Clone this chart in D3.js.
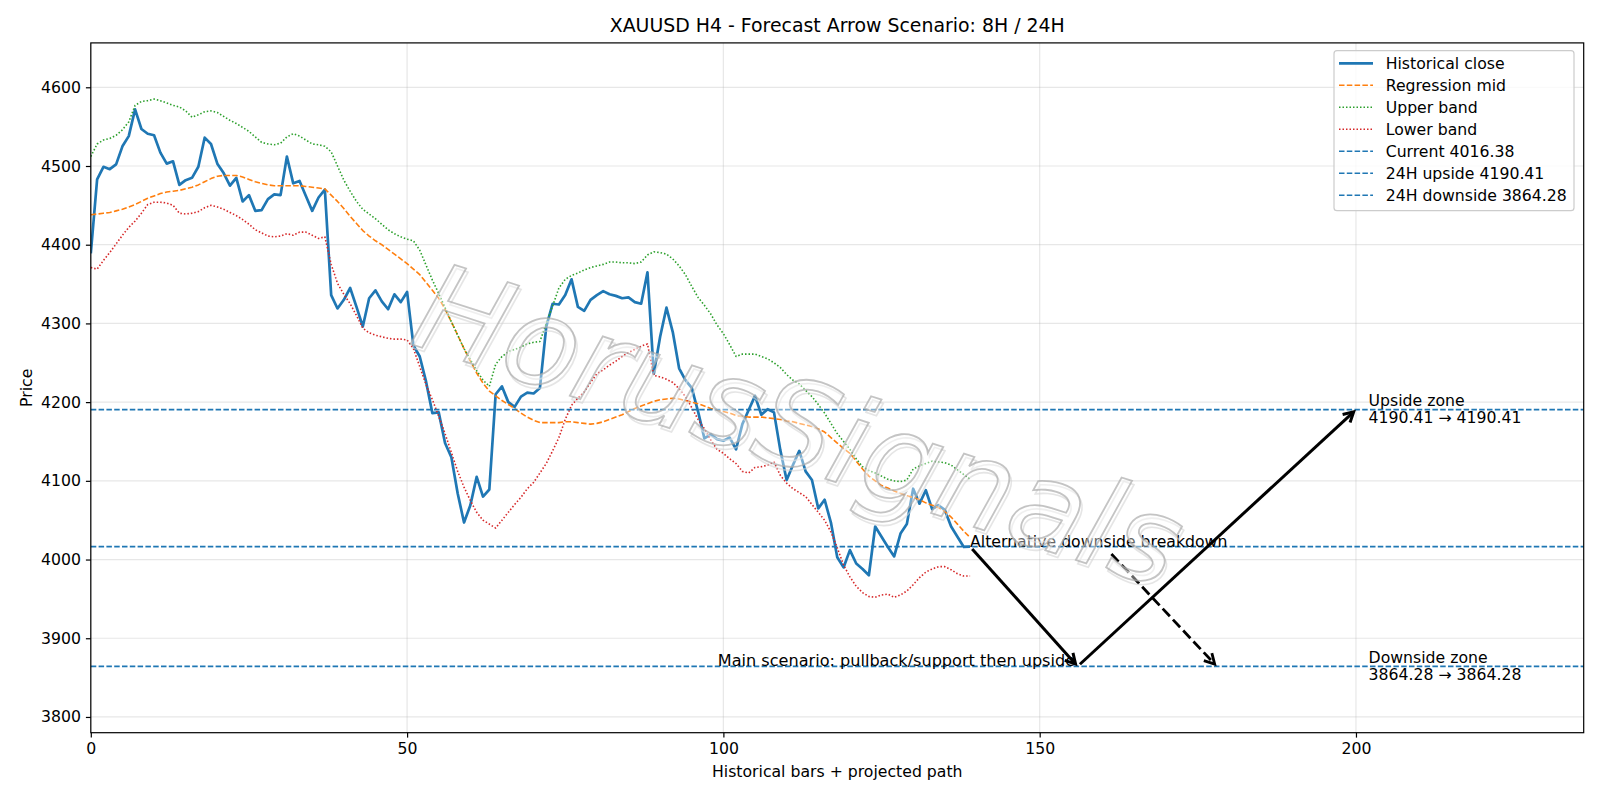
<!DOCTYPE html>
<html>
<head>
<meta charset="utf-8">
<script src="https://cdn.jsdelivr.net/npm/d3@7"></script>
<style>
  body { margin: 0; background: #fff; }
  svg { display: block; font-family: "DejaVu Sans", sans-serif; }
</style>
</head>
<body>
<div id="chart"></div>
<script>
// values
const closeValues = [4389,4483,4499,4496,4502,4525,4538,4572,4547,4541,
  4539,4517,4503,4506,4476,4482,4485,4499,4536,4528,
  4503,4491,4475,4485,4455,4463,4443,4444,4458,4464,
  4463,4512,4478,4481,4462,4443,4460,4470,4336,4319,
  4330,4345,4321,4296,4332,4342,4328,4318,4337,4327,
  4340,4272,4258,4226,4186,4187,4148,4130,4084,4047,
  4069,4105,4080,4089,4210,4220,4200,4194,4207,4212,
  4211,4218,4296,4325,4324,4336,4356,4321,4316,4330,
  4336,4341,4337,4335,4332,4333,4327,4325,4365,4236,
  4283,4320,4289,4243,4228,4218,4188,4154,4159,4153,
  4151,4155,4140,4172,4190,4208,4184,4191,4187,4139,
  4101,4120,4138,4112,4101,4065,4076,4047,4003,3990,
  4012,3995,3988,3980,4042,4029,4016,4004,4033,4045,
  4090,4071,4088,4064,4069,4063,4042,4029,4016,4016.38];

const midValues = [4438,4439,4440,4441,4443,4445,4448,4451,4455,4459,
  4462,4465,4467,4468,4469,4471,4473,4476,4480,4484,
  4487,4488,4488,4488,4486,4483,4480,4478,4476,4475,
  4475,4475,4475,4475,4474,4473,4472,4471,4463,4455,
  4446,4436,4427,4418,4411,4405,4400,4394,4388,4382,
  4376,4369,4362,4352,4342,4332,4318,4302,4285,4268,
  4252,4237,4224,4214,4208,4202,4197,4192,4186,4181,
  4177,4174,4174,4174,4174,4175,4175,4174,4173,4172,
  4173,4175,4178,4181,4184,4188,4192,4195,4198,4201,
  4203,4204,4205,4204,4202,4200,4198,4195,4192,4190,
  4188,4186,4183,4182,4181,4181,4181,4180,4179,4178,
  4176,4175,4173,4171,4169,4166,4162,4155,4148,4141,
  4135,4125,4115,4106,4100,4094,4091,4087,4084,4081,
  4079,4076,4072,4069,4066,4061,4054,4045,4036,4028];

const upperValues = [4512,4528,4533,4535,4539,4546,4556,4577,4582,4583,
  4585,4583,4580,4577,4575,4570,4562,4565,4569,4570,
  4568,4563,4558,4554,4549,4544,4537,4530,4528,4527,
  4529,4537,4541,4538,4533,4528,4527,4525,4518,4500,
  4482,4468,4455,4445,4439,4433,4426,4419,4414,4410,
  4407,4405,4393,4374,4355,4338,4320,4302,4285,4268,
  4254,4240,4228,4220,4248,4258,4264,4267,4270,4274,
  4276,4277,4300,4322,4345,4356,4361,4364,4368,4371,
  4373,4375,4378,4378,4377,4377,4376,4378,4387,4391,
  4390,4388,4382,4373,4362,4347,4333,4323,4312,4298,
  4287,4273,4258,4261,4261,4261,4258,4255,4250,4244,
  4235,4228,4223,4215,4207,4197,4186,4173,4160,4150,
  4140,4128,4118,4113,4110,4106,4102,4100,4099,4101,
  4115,4119,4122,4125,4124,4123,4120,4114,4108,4102];

const lowerValues = [4371,4369,4380,4390,4401,4412,4422,4430,4440,4451,
  4454,4454,4453,4450,4440,4439,4440,4442,4447,4450,
  4448,4445,4441,4437,4432,4426,4419,4415,4411,4410,
  4411,4414,4412,4416,4416,4412,4408,4410,4375,4351,
  4337,4325,4310,4294,4288,4285,4283,4281,4280,4280,
  4279,4268,4245,4222,4203,4182,4160,4136,4112,4092,
  4075,4060,4050,4045,4040,4050,4060,4070,4079,4090,
  4098,4110,4122,4138,4155,4178,4196,4205,4213,4225,
  4236,4241,4247,4252,4258,4263,4267,4271,4274,4234,
  4232,4229,4225,4217,4207,4193,4178,4166,4152,4140,
  4135,4128,4122,4112,4110,4117,4118,4120,4124,4107,
  4097,4090,4085,4080,4070,4060,4050,4035,4015,3993,
  3978,3966,3958,3953,3952,3955,3956,3952,3955,3960,
  3968,3977,3984,3988,3991,3991,3987,3982,3979,3979];

const currentPrice = 4016.38;
const upsideTarget = 4190.41;
const downsideTarget = 3864.28;

// projected paths (bar index, price)
const mainPathX = [139, 156, 200];
const mainPathY = [currentPrice, downsideTarget, upsideTarget];
const altPathX = [161, 178];
const altPathY = [4010, downsideTarget];

const xTicks = [0, 50, 100, 150, 200];
const yTicks = [3800, 3900, 4000, 4100, 4200, 4300, 4400, 4500, 4600];

const titleText = 'XAUUSD H4 - Forecast Arrow Scenario: 8H / 24H';
const watermarkText = 'HorusSignals';
const legendLabels = ['Historical close', 'Regression mid', 'Upper band', 'Lower band',
  'Current ' + currentPrice, '24H upside ' + upsideTarget, '24H downside ' + downsideTarget];

const width = 1600;
const height = 800;
const plotLeft = 90.8, plotRight = 1583.7, plotTop = 42.9, plotBottom = 732.7;
const fontSize = 15.7;

const svg = d3.select('#chart').append('svg')
  .attr('width', width)
  .attr('height', height);

const x = d3.scaleLinear().domain([0, 236]).range([plotLeft, plotRight]);
const y = d3.scaleLinear().domain([3780, 4656.4]).range([plotBottom, plotTop]);

// grid
const grid = svg.append('g').attr('class', 'grid');
grid.selectAll('.gx').data(xTicks).enter().append('line')
  .attr('x1', d => x(d)).attr('x2', d => x(d))
  .attr('y1', plotTop).attr('y2', plotBottom)
  .attr('stroke', '#b0b0b0').attr('stroke-opacity', 0.3).attr('stroke-width', 1.2);
grid.selectAll('.gy').data(yTicks).enter().append('line')
  .attr('x1', plotLeft).attr('x2', plotRight)
  .attr('y1', d => y(d)).attr('y2', d => y(d))
  .attr('stroke', '#b0b0b0').attr('stroke-opacity', 0.3).attr('stroke-width', 1.2);

svg.append('clipPath').attr('id', 'plotClip')
  .append('rect').attr('x', plotLeft).attr('y', plotTop)
  .attr('width', plotRight - plotLeft).attr('height', plotBottom - plotTop);

const plot = svg.append('g').attr('clip-path', 'url(#plotClip)');

const line = d3.line().x((d, i) => x(i)).y(d => y(d));

const series = [
  { values: closeValues, color: '#1f77b4', width: 2.7, dash: null },
  { values: midValues, color: '#ff7f0e', width: 1.6, dash: '5.5,2.3' },
  { values: upperValues, color: '#2ca02c', width: 1.6, dash: '1.5,2' },
  { values: lowerValues, color: '#d62728', width: 1.6, dash: '1.5,2' }
];

series.forEach(s => {
  plot.append('path')
    .datum(s.values)
    .attr('d', line)
    .attr('fill', 'none')
    .attr('stroke', s.color)
    .attr('stroke-width', s.width)
    .attr('stroke-dasharray', s.dash)
    .attr('stroke-linejoin', 'round');
});

// horizontal levels
const levels = [currentPrice, upsideTarget, downsideTarget];
plot.selectAll('.level').data(levels).enter().append('line')
  .attr('x1', plotLeft).attr('x2', plotRight)
  .attr('y1', d => y(d)).attr('y2', d => y(d))
  .attr('stroke', '#1f77b4').attr('stroke-width', 1.6)
  .attr('stroke-dasharray', '5.5,2.3');

// arrows
function drawArrow(g, x0, y0, x1, y1, dash, lw) {
  const px0 = x(x0), py0 = y(y0), px1 = x(x1), py1 = y(y1);
  const dx = px1 - px0, dy = py1 - py0;
  const len = Math.hypot(dx, dy);
  const ux = dx / len, uy = dy / len;
  const shrink = 3.1;
  const sx = px0 + ux * shrink, sy = py0 + uy * shrink;
  const ex = px1 - ux * shrink, ey = py1 - uy * shrink;
  g.append('line')
    .attr('x1', sx).attr('y1', sy)
    .attr('x2', ex - ux * 1.5).attr('y2', ey - uy * 1.5)
    .attr('stroke', '#000').attr('stroke-width', lw)
    .attr('stroke-dasharray', dash);
  const hl = 10, hw = 5.5;
  const bx = ex - ux * hl, by = ey - uy * hl;
  g.append('path')
    .attr('d', `M${bx - uy * hw},${by + ux * hw}L${ex},${ey}L${bx + uy * hw},${by - ux * hw}`)
    .attr('fill', 'none')
    .attr('stroke', '#000').attr('stroke-width', lw)
    .attr('stroke-linejoin', 'miter');
}

const arrows = svg.append('g').attr('class', 'arrows');
for (let i = 0; i < mainPathX.length - 1; i += 1) {
  drawArrow(arrows, mainPathX[i], mainPathY[i], mainPathX[i + 1], mainPathY[i + 1], null, 3);
}
drawArrow(arrows, altPathX[0], altPathY[0], altPathX[1], altPathY[1], '10.5,4.5', 2.8);

// annotations
const notes = svg.append('g').attr('font-size', fontSize).attr('fill', '#000');
notes.append('text')
  .attr('x', x(mainPathX[0])).attr('y', y(currentPrice))
  .text('Alternative downside breakdown');
notes.append('text')
  .attr('x', x(mainPathX[1] - 0.4)).attr('y', y(downsideTarget))
  .attr('text-anchor', 'end')
  .attr('font-size', 16.1)
  .text('Main scenario: pullback/support then upside');

const zones = [
  { name: 'Upside zone', value: upsideTarget },
  { name: 'Downside zone', value: downsideTarget }
];
zones.forEach(z => {
  const t = notes.append('text').attr('x', x(202)).attr('y', y(z.value) - 3.8);
  t.append('tspan').attr('x', x(202)).text(z.name);
  t.append('tspan').attr('x', x(202)).attr('dy', 17)
    .text(z.value.toFixed(2) + ' \u2192 ' + z.value.toFixed(2));
});

// watermark: pale outlined italic text with a soft shadow, over the lines
const mark = svg.append('g')
  .attr('transform', 'translate(786, 466) rotate(18)')
  .attr('font-size', 122)
  .attr('font-style', 'italic')
  .attr('text-anchor', 'middle');
mark.append('text').attr('x', 3).attr('y', 3)
  .attr('fill', 'none')
  .attr('stroke', '#d4d4d4').attr('stroke-opacity', 0.6).attr('stroke-width', 1.6)
  .text(watermarkText);
mark.append('text')
  .attr('fill', '#ffffff').attr('fill-opacity', 0.4)
  .attr('stroke', '#ababab').attr('stroke-opacity', 0.7).attr('stroke-width', 1.8)
  .text(watermarkText);

// frame
svg.append('rect')
  .attr('x', plotLeft).attr('y', plotTop)
  .attr('width', plotRight - plotLeft).attr('height', plotBottom - plotTop)
  .attr('fill', 'none').attr('stroke', '#000').attr('stroke-width', 1.2);

// axes
const xAxis = d3.axisBottom(x).tickValues(xTicks).tickSize(4.9).tickPadding(4.9)
  .tickSizeOuter(0).tickFormat(d3.format('d'));
const gx = svg.append('g').attr('transform', `translate(0, ${plotBottom})`).call(xAxis);
const yAxis = d3.axisLeft(y).tickValues(yTicks).tickSize(4.9).tickPadding(4.9)
  .tickSizeOuter(0).tickFormat(d3.format('d'));
const gy = svg.append('g').attr('transform', `translate(${plotLeft}, 0)`).call(yAxis);
[gx, gy].forEach(g => {
  g.select('.domain').remove();
  g.selectAll('line').attr('stroke', '#000').attr('stroke-width', 1.2);
  g.selectAll('text').attr('font-size', fontSize).attr('font-family', 'DejaVu Sans').attr('fill', '#000');
});

svg.append('text')
  .attr('x', (plotLeft + plotRight) / 2).attr('y', 32.3)
  .attr('text-anchor', 'middle')
  .attr('font-size', 18.9)
  .text(titleText);

svg.append('text')
  .attr('x', (plotLeft + plotRight) / 2).attr('y', 777)
  .attr('text-anchor', 'middle')
  .attr('font-size', fontSize)
  .text('Historical bars + projected path');

svg.append('text')
  .attr('transform', `translate(32, ${(plotTop + plotBottom) / 2}) rotate(-90)`)
  .attr('text-anchor', 'middle')
  .attr('font-size', fontSize)
  .text('Price');

// legend
const legendItems = [
  { color: '#1f77b4', width: 2.7, dash: null },
  { color: '#ff7f0e', width: 1.6, dash: '5.5,2.3' },
  { color: '#2ca02c', width: 1.6, dash: '1.5,2' },
  { color: '#d62728', width: 1.6, dash: '1.5,2' },
  { color: '#1f77b4', width: 1.6, dash: '5.5,2.3' },
  { color: '#1f77b4', width: 1.6, dash: '5.5,2.3' },
  { color: '#1f77b4', width: 1.6, dash: '5.5,2.3' }
];
const legend = svg.append('g').attr('class', 'legend');
legend.append('rect')
  .attr('x', 1334).attr('y', 50.7)
  .attr('width', 240).attr('height', 160)
  .attr('rx', 3)
  .attr('fill', '#fff').attr('fill-opacity', 0.8)
  .attr('stroke', '#cccccc').attr('stroke-width', 1.2);
legendItems.forEach((item, i) => {
  const cy = 63.3 + i * 21.98;
  legend.append('line')
    .attr('x1', 1339).attr('x2', 1373)
    .attr('y1', cy).attr('y2', cy)
    .attr('stroke', item.color).attr('stroke-width', item.width)
    .attr('stroke-dasharray', item.dash);
  legend.append('text')
    .attr('x', 1385.7).attr('y', cy + 5.6)
    .attr('font-size', fontSize)
    .text(legendLabels[i]);
});
</script>
</body>
</html>
